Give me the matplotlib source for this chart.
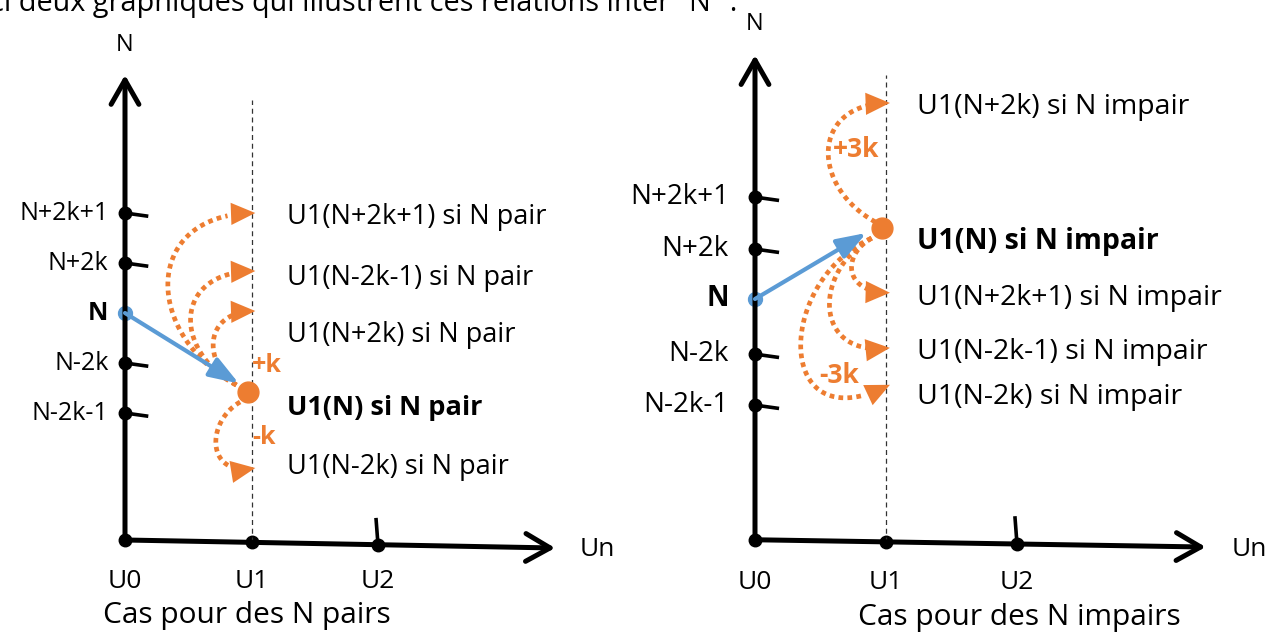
import numpy as np
import matplotlib.pyplot as plt

plt.rcParams['font.family'] = ['Open Sans', 'DejaVu Sans']

BLUE = '#5B9BD5'
ORANGE = '#ED7D31'
W, H = 1269, 632

intro = 'ci deux graphiques qui illustrent ces relations inter "N" :'

# abscissa: U index
u_labels = ['U0', 'U1', 'U2']
u_pos = [0, 1, 2]

# left chart: N pairs (ordinate in "level" units, N = 0)
pair_levels = ['N+2k+1', 'N+2k', 'N', 'N-2k', 'N-2k-1']
pair_level_pos = [2.0, 1.0, 0.0, -1.0, -2.0]
pair_u1n = -1.58                                   # where U1(N) lands
pair_targets = [2.0, 0.84, 0.04, -3.1]             # arrow tips on the U1 line
pair_leftmost = [0.34, 0.52, 0.70, 0.72]
pair_dips = [0.0, 0.0, 0.0, -0.2]
pair_labels = ['U1(N+2k+1) si N pair', 'U1(N-2k-1) si N pair',
               'U1(N+2k) si N pair', 'U1(N) si N pair', 'U1(N-2k) si N pair']
pair_label_pos = [1.92, 0.70, -0.44, -1.90, -3.08]
pair_steps = ['+k', '-k']
pair_step_xy = [(1.12, -1.04), (1.1, -2.48)]

# right chart: N impairs
odd_levels = ['N+2k+1', 'N+2k', 'N', 'N-2k', 'N-2k-1']
odd_level_pos = [1.96, 0.96, 0.0, -1.06, -2.04]
odd_u1n = 1.37
odd_targets = [3.77, 0.12, -0.94, -1.65]
odd_leftmost = [0.56, 0.74, 0.57, 0.35]
odd_dips = [0.0, 0.0, -0.2, -1.15]
odd_labels = ['U1(N+2k) si N impair', 'U1(N) si N impair',
              'U1(N+2k+1) si N impair', 'U1(N-2k-1) si N impair',
              'U1(N-2k) si N impair']
odd_label_pos = [3.69, 1.10, 0.02, -1.02, -1.88]
odd_steps = ['+3k', '-3k']
odd_step_xy = [(0.77, 2.87), (0.64, -1.47)]


def frame(ax, x0, y0, sx, sy):
    # map (U, level) so that (0, 0) sits at pixel (x0, y0)
    ax.set_xlim(-x0 / sx, (W - x0) / sx)
    ax.set_ylim(-(H - y0) / sy, y0 / sy)
    ax.axis('off')


def bezier(p0, p1, p2, p3, n=90):
    t = np.linspace(0, 1, n)[:, None]
    return ((1 - t) ** 3 * p0 + 3 * (1 - t) ** 2 * t * p1
            + 3 * (1 - t) * t ** 2 * p2 + t ** 3 * p3)


def curved_arrow(ax, start, target, leftmost, dip):
    p0 = np.array(start)
    p3 = np.array([1.03, target])
    c = 4 / 3 * (leftmost - (p0[0] + p3[0]) / 8)
    p1 = np.array([c, p0[1] + 0.3 * (target - p0[1])])
    p2 = np.array([c, target + dip])
    pts = bezier(p0, p1, p2, p3)
    ax.plot(pts[:-8, 0], pts[:-8, 1], color=ORANGE, lw=3.4,
            linestyle=(0, (1, 0.9)), solid_capstyle='butt')
    back = pts[-4]
    ax.annotate('', xy=p3, xytext=back,
                arrowprops=dict(arrowstyle='-|>,head_length=0.7,head_width=0.32',
                                mutation_scale=25, color=ORANGE, lw=0,
                                shrinkA=0, shrinkB=0))


def draw_panel(ax, levels, level_pos, u1n, blue_tip, up_start, down_start,
               targets, leftmost, dips, labels, label_pos, steps, step_xy,
               caption, caption_x, y_bottom, y_top, x_tip, y_tip, dash_top,
               text_x, level_x, fs_tick, fs_lab, fs_step):
    head = '->,head_length=0.7,head_width=0.4'
    ax.annotate('', xy=(0, y_top), xytext=(0, y_bottom),
                arrowprops=dict(arrowstyle=head, mutation_scale=25, lw=3.6,
                                color='black', shrinkA=0, shrinkB=0))
    ax.annotate('', xy=(x_tip, y_tip), xytext=(0, y_bottom),
                arrowprops=dict(arrowstyle=head, mutation_scale=25, lw=3.6,
                                color='black', shrinkA=0, shrinkB=0))
    slope = (y_tip - y_bottom) / x_tip
    ux = np.array(u_pos)
    ax.plot(ux, y_bottom + slope * ux, 'o', color='black', ms=9)
    u2y = y_bottom + slope * 2
    ax.plot([2, 1.985], [u2y, u2y + 0.5], color='black', lw=2.6)
    for u, lab in zip(u_pos, u_labels):
        ax.text(u, y_bottom - 0.82, lab, ha='center', va='center', fontsize=19)
    ax.text(x_tip + 0.33, y_tip - 0.04, 'Un', ha='center', va='center', fontsize=19)
    ax.text(0, y_top + 0.6, 'N', ha='center', va='center', fontsize=17)
    ax.text(caption_x, y_bottom - 1.5, caption, ha='center', va='center', fontsize=21.5)

    # dashed U1 guide
    ax.plot([1, 1], [y_bottom + slope, dash_top], color='#333333', lw=0.9,
            linestyle=(0, (4, 3)))

    # level ticks on the N axis
    for lab, y in zip(levels, level_pos):
        bold = lab == 'N'
        ax.text(level_x, y, lab, ha='right', va='center', fontsize=fs_tick,
                fontweight='bold' if bold else 'normal')
        if not bold:
            ax.plot([0, 0.17], [y, y - 0.06], color='black', lw=2.6)
            ax.plot(0, y, 'o', color='black', ms=9)

    # blue jump N -> U1(N)
    ax.annotate('', xy=blue_tip, xytext=(0, 0),
                arrowprops=dict(arrowstyle='-|>,head_length=0.9,head_width=0.32',
                                mutation_scale=20, lw=3, color=BLUE,
                                shrinkA=0, shrinkB=0))
    ax.plot(0, 0, 'o', color=BLUE, ms=10)

    # orange moves along U1
    for tgt, xl, dip in zip(targets, leftmost, dips):
        start = up_start if tgt > u1n else down_start
        curved_arrow(ax, start, tgt, xl, dip)
    ax.plot(0.97, u1n, 'o', color=ORANGE, ms=15)
    for s, (sx, sy) in zip(steps, step_xy):
        ax.text(sx, sy, s, ha='center', va='center', fontsize=fs_step,
                fontweight='bold', color=ORANGE, zorder=6)

    for lab, y in zip(labels, label_pos):
        ax.text(text_x, y, lab, ha='left', va='center', fontsize=fs_lab,
                fontweight='bold' if lab.startswith('U1(N)') else 'normal')


fig = plt.figure(figsize=(W / 100, H / 100), dpi=100)
fig.text(-10 / W, 1 - 11 / H, intro, ha='left', va='baseline', fontsize=20.8)

ax1 = fig.add_axes([0, 0, 1, 1])
frame(ax1, 125, 313, 126.5, 50)
draw_panel(ax1, pair_levels, pair_level_pos, pair_u1n, (0.9, -1.41),
           (0.88, -1.44), (0.91, -1.78),
           pair_targets, pair_leftmost, pair_dips, pair_labels, pair_label_pos,
           pair_steps, pair_step_xy, 'Cas pour des N pairs', 0.96,
           -4.54, 4.76, 3.40, -4.70, 4.26, 1.28, -0.13, 18, 19.5, 18)

ax2 = fig.add_axes([0, 0, 1, 1])
frame(ax2, 755, 299, 131, 52)
draw_panel(ax2, odd_levels, odd_level_pos, odd_u1n, (0.85, 1.27),
           (0.92, 1.48), (0.89, 1.17),
           odd_targets, odd_leftmost, odd_dips, odd_labels, odd_label_pos,
           odd_steps, odd_step_xy, 'Cas pour des N impairs', 2.02,
           -4.63, 4.69, 3.44, -4.77, 4.31, 1.24, -0.2, 20, 20.5, 19)

fig.savefig('out.png', dpi=100)
